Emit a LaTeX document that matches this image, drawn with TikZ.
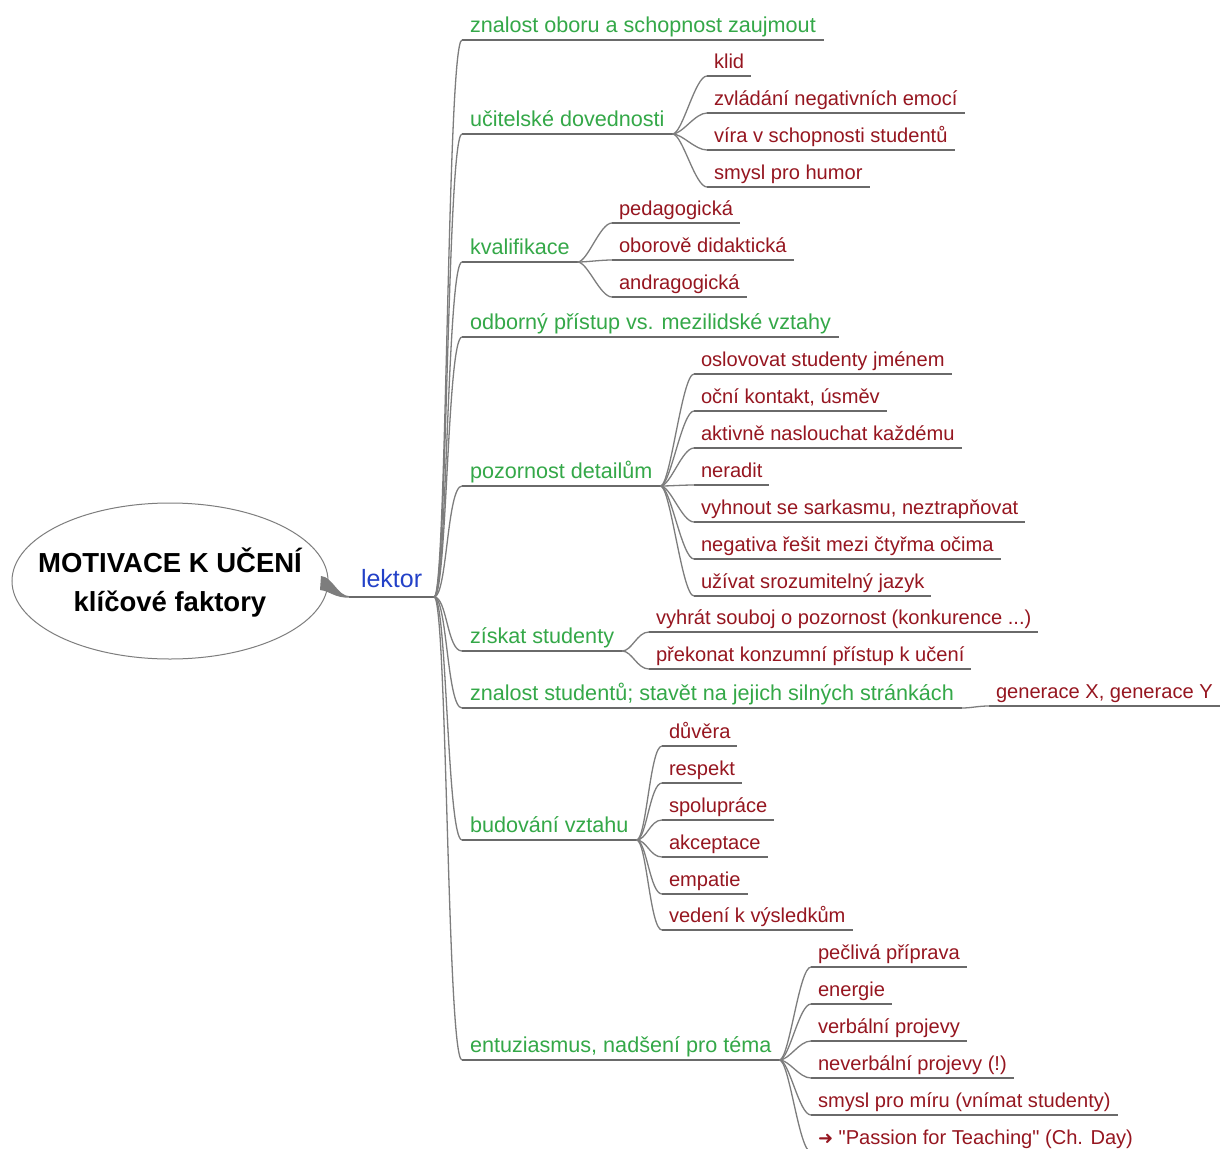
\documentclass[tikz,border=0pt]{standalone}
\usepackage{fontspec}
\setmainfont{Liberation Sans}[Ligatures=TeXOff]
\newfontfamily\dejavu{DejaVu Sans}
\usetikzlibrary{shapes.geometric}
\definecolor{colone}{RGB}{52,168,72}
\definecolor{coltwo}{RGB}{150,22,32}
\definecolor{colblue}{RGB}{35,65,200}
\definecolor{colgray}{RGB}{125,125,125}
\newcommand\mmbranch[2]{\draw[conn] (#1.south east) .. controls +(10,0) and +(-12,0) .. (#2.south west);}
\newcommand\mmtrunk[1]{\draw[conn] (lektor.south east) .. controls +(13,0) and +(-15,0) .. (#1.south west);}
\begin{document}
\begin{tikzpicture}[x=1pt,y=-1pt,
  base/.style={anchor=south west, inner xsep=7pt, inner ysep=0pt, outer sep=0pt},
  lone/.style={base, inner xsep=8pt, font=\fontsize{21.6}{24}\selectfont, text=colone, text depth=7.5pt},
  ltwo/.style={base, font=\fontsize{20.1}{23}\selectfont, text=coltwo, text depth=7.5pt},
  conn/.style={draw=colgray, line width=1.3pt},
  uline/.style={draw=colgray!85!black, line width=1.2pt}]
\clip (0,0) rectangle (1220,1148);
\fill[white] (0,0) rectangle (1220,1148);
% root
\node[draw=colgray, line width=1pt, ellipse, minimum width=316pt, minimum height=156pt,
  inner sep=0pt] (root) at (170,581) {};
\node[align=center, inner sep=0pt, font=\bfseries\fontsize{27.5}{39}\selectfont] (roottext) at ([yshift=-2pt]root.center)
  {MOTIVACE K UČENÍ\\klíčové faktory};
\node[anchor=south west, inner xsep=12pt, inner ysep=0pt, outer sep=0pt, text depth=10pt,
  font=\fontsize{25}{28}\selectfont, text=colblue] (lektor) at (349,597) {lektor};
\fill[colgray] (321,576) .. controls (333,577) and (337,596) .. (350,596.3) -- (350,597.7)
  .. controls (334,598) and (330,591) .. (320,590) -- cycle;
\draw[uline] (lektor.south west) -- (lektor.south east);
% level 1
\node[lone] (a1) at (462,40) {znalost oboru a schopnost zaujmout};
\node[lone] (a2) at (462,134) {učitelské dovednosti};
\node[lone] (a3) at (462,262) {kvalifikace};
\node[lone] (a4) at (462,337) {odborný přístup vs. mezilidské vztahy};
\node[lone] (a5) at (462,486) {pozornost detailům};
\node[lone] (a6) at (462,651) {získat studenty};
\node[lone] (a7) at (462,708) {znalost studentů; stavět na jejich silných stránkách};
\node[lone] (a8) at (462,840) {budování vztahu};
\node[lone] (a9) at (462,1060) {entuziasmus, nadšení pro téma};
\foreach \n in {a1,a2,a3,a4,a5,a6,a7,a8,a9}{\draw[uline] (\n.south west) -- (\n.south east); \mmtrunk{\n}}
% level 2 under a2
\node[ltwo] (b1) at (707,76) {klid};
\node[ltwo] (b2) at (707,113) {zvládání negativních emocí};
\node[ltwo] (b3) at (707,150) {víra v schopnosti studentů};
\node[ltwo] (b4) at (707,187) {smysl pro humor};
\foreach \n in {b1,b2,b3,b4}{\draw[uline] (\n.south west) -- (\n.south east); \mmbranch{a2}{\n}}
% under a3
\node[ltwo] (c1) at (612,223) {pedagogická};
\node[ltwo] (c2) at (612,260) {oborově didaktická};
\node[ltwo] (c3) at (612,297) {andragogická};
\foreach \n in {c1,c2,c3}{\draw[uline] (\n.south west) -- (\n.south east); \mmbranch{a3}{\n}}
% under a5
\node[ltwo] (d1) at (694,374) {oslovovat studenty jménem};
\node[ltwo] (d2) at (694,411) {oční kontakt, úsměv};
\node[ltwo] (d3) at (694,448) {aktivně naslouchat každému};
\node[ltwo] (d4) at (694,485) {neradit};
\node[ltwo] (d5) at (694,522) {vyhnout se sarkasmu, neztrapňovat};
\node[ltwo] (d6) at (694,559) {negativa řešit mezi čtyřma očima};
\node[ltwo] (d7) at (694,596) {užívat srozumitelný jazyk};
\foreach \n in {d1,d2,d3,d4,d5,d6,d7}{\draw[uline] (\n.south west) -- (\n.south east); \mmbranch{a5}{\n}}
% under a6
\node[ltwo] (e1) at (649,632) {vyhrát souboj o pozornost (konkurence ...)};
\node[ltwo] (e2) at (649,669) {překonat konzumní přístup k učení};
\foreach \n in {e1,e2}{\draw[uline] (\n.south west) -- (\n.south east); \mmbranch{a6}{\n}}
% under a7
\node[ltwo] (f1) at (989,706) {generace X, generace Y};
\draw[uline] (f1.south west) -- (f1.south east); \mmbranch{a7}{f1}
% under a8
\node[ltwo] (g1) at (662,746) {důvěra};
\node[ltwo] (g2) at (662,783) {respekt};
\node[ltwo] (g3) at (662,820) {spolupráce};
\node[ltwo] (g4) at (662,857) {akceptace};
\node[ltwo] (g5) at (662,894) {empatie};
\node[ltwo] (g6) at (662,930) {vedení k výsledkům};
\foreach \n in {g1,g2,g3,g4,g5,g6}{\draw[uline] (\n.south west) -- (\n.south east); \mmbranch{a8}{\n}}
% under a9
\node[ltwo] (h1) at (811,967) {pečlivá příprava};
\node[ltwo] (h2) at (811,1004) {energie};
\node[ltwo] (h3) at (811,1041) {verbální projevy};
\node[ltwo] (h4) at (811,1078) {neverbální projevy (!)};
\node[ltwo] (h5) at (811,1115) {smysl pro míru (vnímat studenty)};
\node[ltwo] (h6) at (811,1152) {{\dejavu\fontsize{18}{18}\selectfont ➜}\ "Passion for Teaching" (Ch. Day)};
\foreach \n in {h1,h2,h3,h4,h5,h6}{\draw[uline] (\n.south west) -- (\n.south east); \mmbranch{a9}{\n}}
\end{tikzpicture}
\end{document}
